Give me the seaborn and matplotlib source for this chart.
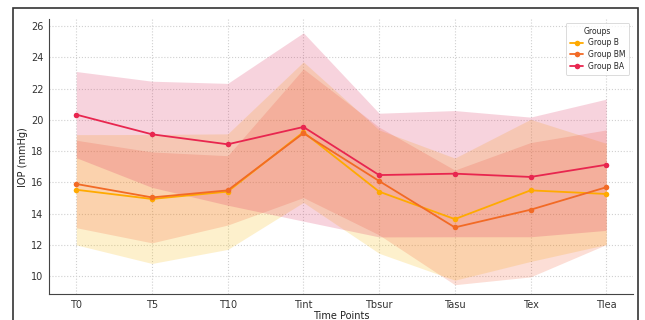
import matplotlib
matplotlib.use("Agg")
import matplotlib.pyplot as plt
import numpy as np
import pandas as pd
import seaborn as sns

time_points = ["T0", "T5", "T10", "Tint", "Tbsur", "Tasu", "Tex", "Tlea"]

b_mean = [15.53, 14.94, 15.41, 19.22, 15.41, 13.65, 15.49, 15.26]
b_sd = [3.53, 4.13, 3.70, 4.50, 3.95, 3.91, 4.55, 3.24]
bm_mean = [15.90, 15.04, 15.49, 19.15, 16.09, 13.12, 14.25, 15.69]
bm_sd = [2.80, 2.91, 2.22, 4.12, 3.45, 3.67, 4.30, 3.67]
ba_mean = [20.34, 19.08, 18.44, 19.55, 16.47, 16.56, 16.35, 17.13]
ba_sd = [2.76, 3.40, 3.90, 6.03, 3.96, 4.04, 3.83, 4.20]

groups = ["Group B", "Group BM", "Group BA"]
colors = {"Group B": "#FFAA00", "Group BM": "#F26A25", "Group BA": "#E8264F"}
band_colors = {"Group B": "#F8B800", "Group BM": "#F35A32", "Group BA": "#DA2658"}

rows = []
for g, m, s in [("Group B", b_mean, b_sd), ("Group BM", bm_mean, bm_sd), ("Group BA", ba_mean, ba_sd)]:
    for i, tp in enumerate(time_points):
        rows.append({"Time Points": tp, "x": i, "IOP": m[i], "sd": s[i], "Group": g})
df = pd.DataFrame(rows)

sns.set_style("white")
fig = plt.figure(figsize=(6.45, 3.2), dpi=100)
ax = fig.add_axes([0.076, 0.081, 0.905, 0.859])

# shaded mean +/- sd bands
for g in groups:
    d = df[df["Group"] == g]
    ax.fill_between(d["x"], d["IOP"] - d["sd"], d["IOP"] + d["sd"],
                    color=band_colors[g], alpha=0.2, linewidth=0)

sns.lineplot(data=df, x="x", y="IOP", hue="Group", palette=colors,
             hue_order=groups, marker="o", markersize=4, markeredgewidth=0,
             linewidth=1.3, ax=ax)

ax.set_xticks(range(len(time_points)))
ax.set_xticklabels(time_points)
ax.set_xlim(-0.36, 7.35)
ax.set_ylim(8.85, 26.45)
ax.set_yticks([10, 12, 14, 16, 18, 20, 22, 24, 26])
ax.tick_params(labelsize=7, length=2.5, width=0.6, pad=1.5, colors="#333333")
ax.set_xlabel("Time Points", fontsize=7, labelpad=1, color="#222222")
ax.set_ylabel("IOP (mmHg)", fontsize=7, labelpad=2, color="#222222")
ax.grid(True, linestyle=":", color="#d0d0d0", linewidth=0.8)
for side in ["top", "right"]:
    ax.spines[side].set_visible(False)
for side in ["left", "bottom"]:
    ax.spines[side].set_color("#444444")
    ax.spines[side].set_linewidth(0.8)

leg = ax.legend(title="Groups", fontsize=5.5, title_fontsize=5.5, loc="upper right",
                bbox_to_anchor=(0.998, 0.995), borderaxespad=0.3, frameon=True,
                handlelength=1.8, borderpad=0.5, labelspacing=0.35, handletextpad=0.6)
leg.get_frame().set_linewidth(0.6)

# outer frame of the picture
frame = plt.Rectangle((0.02, -0.1), 0.969, 1.075, transform=fig.transFigure,
                      fill=False, edgecolor="#333333", linewidth=1.2)
fig.patches.append(frame)

fig.savefig("out.png", dpi=100)
